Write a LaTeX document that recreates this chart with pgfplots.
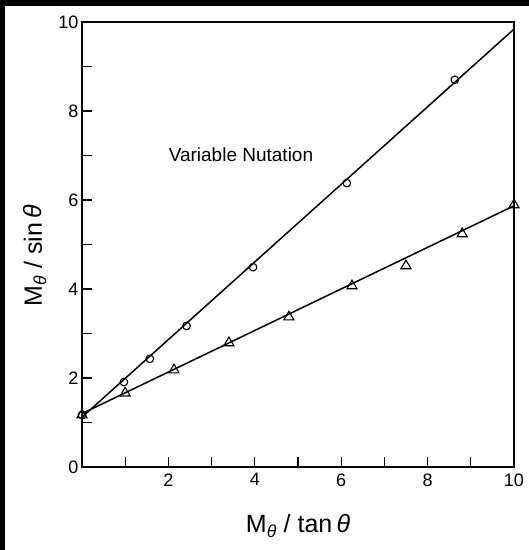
\documentclass[border=0pt]{standalone}
\usepackage{fontspec}
\setmainfont{Liberation Sans}
\usepackage{pgfplots}
\pgfplotsset{compat=1.18}
\begin{document}
\begin{tikzpicture}[x=1pt,y=1pt]
\useasboundingbox (0,0) rectangle (529,550);
\fill[white] (0,0) rectangle (529,550);
\fill[black] (0,0) rectangle (5,550);
\fill[black] (0,544) rectangle (529,550);
\begin{axis}[
  at={(82pt,83pt)}, anchor=south west, scale only axis,
  width=432pt, height=445pt,
  xmin=0, xmax=10, ymin=0, ymax=10,
  xtick={2,4,6,8,10}, minor xtick={1,3,5,7,9},
  ytick={0,2,4,6,8,10}, minor ytick={1,3,5,7,9},
  tick pos=left, tick align=inside,
  major tick length=10pt, minor tick length=10pt,
  every tick/.append style={black, line width=1.2pt},
  every minor tick/.append style={black, line width=1.2pt},
  axis line style={line width=1.4pt},
  tick label style={font=\fontsize{18}{21}\selectfont},
  x tick label style={yshift=-3pt},
  /pgf/number format/assume math mode=true,
  xlabel={M\textsubscript{\textit{θ}} / tan\,\textit{θ}},
  ylabel={M\textsubscript{\textit{θ}} / sin\,\textit{θ}},
  label style={font=\fontsize{25}{28}\selectfont},
  x label style={at={(axis description cs:0.5,0)}, anchor=center, yshift=-59pt},
  y label style={at={(axis description cs:0,0.475)}, anchor=center, yshift=47pt},
  clip=false,
]
% fitted lines
\addplot[black, line width=1.5pt] coordinates {(0,1.12) (10,9.84)};
\addplot[black, line width=1.5pt] coordinates {(0,1.20) (10,5.87)};
% circles
\addplot[only marks, mark=o, mark size=3.8pt, mark options={fill=white, line width=1.1pt}]
  coordinates {(0,1.17) (0.97,1.91) (1.57,2.43) (2.42,3.17) (3.96,4.49) (6.13,6.38) (8.63,8.70)};
% triangles
\addplot[only marks, mark=triangle, mark size=5.8pt, mark options={fill=white, line width=1.1pt}]
  coordinates {(0,1.17) (1.0,1.66) (2.13,2.18) (3.40,2.79) (4.79,3.37) (6.25,4.07) (7.50,4.52) (8.80,5.24) (10,5.89)};
\node[font=\fontsize{19}{22}\selectfont] at (axis cs:3.68,7.01) {Variable Nutation};
\end{axis}
\end{tikzpicture}
\end{document}
